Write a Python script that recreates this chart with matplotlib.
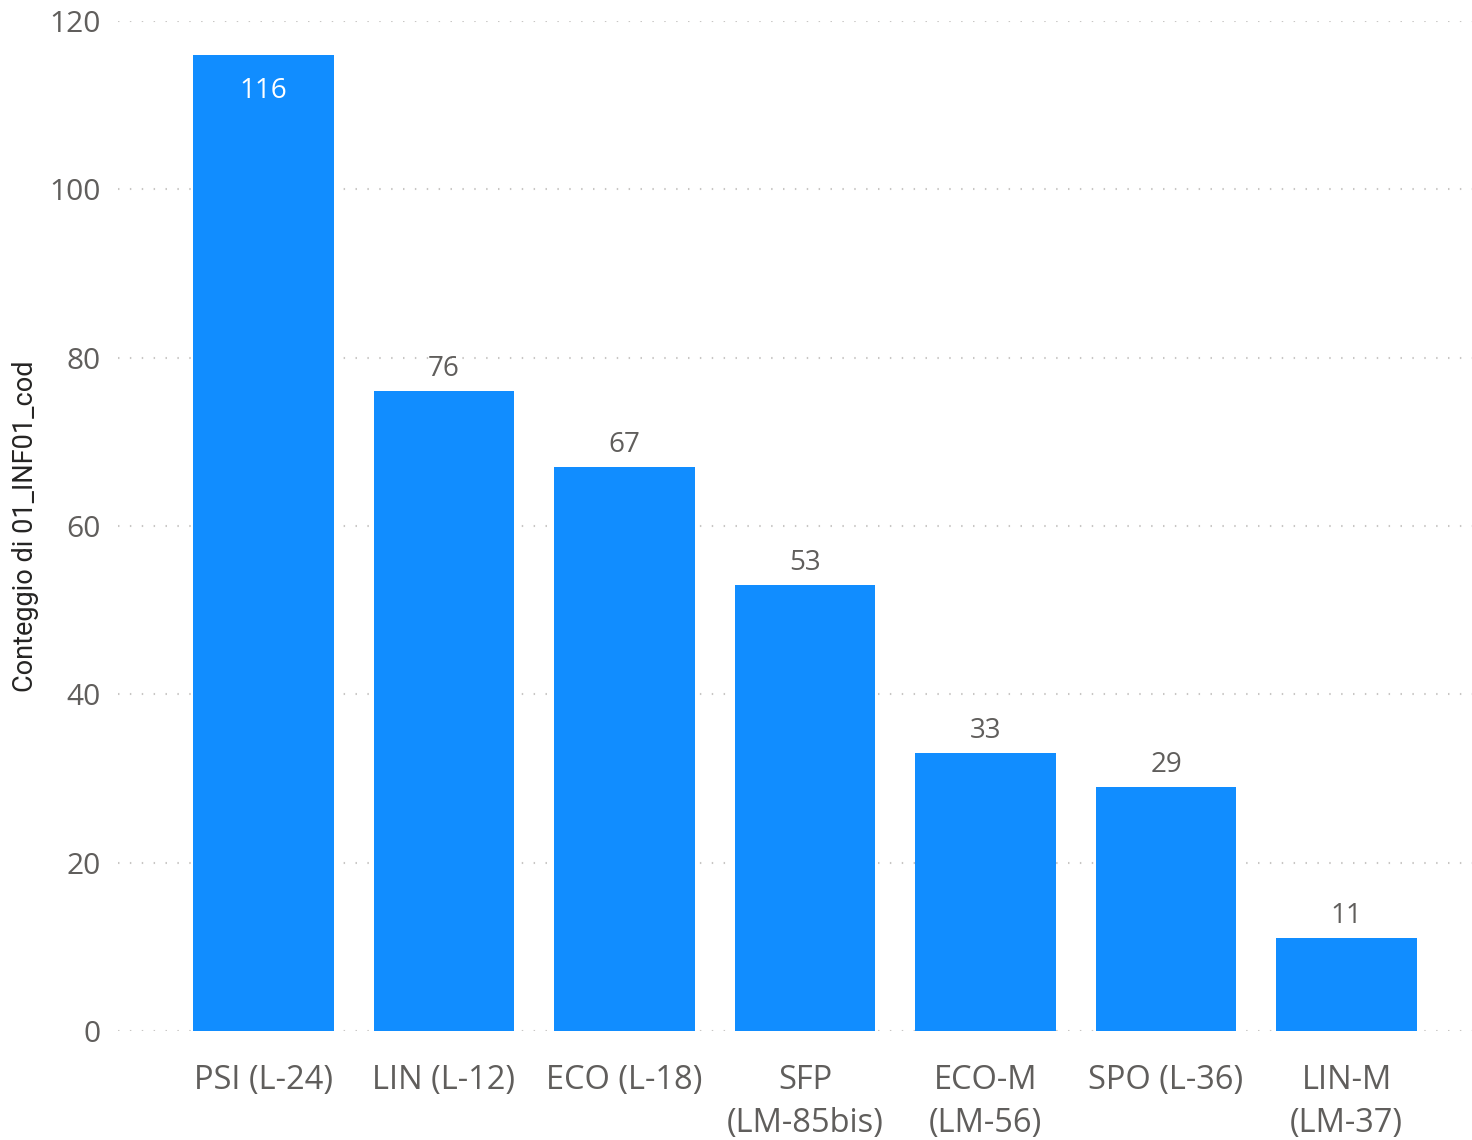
import matplotlib
matplotlib.use("Agg")
import matplotlib.pyplot as plt

categories = ["PSI (L-24)", "LIN (L-12)", "ECO (L-18)", "SFP\n(LM-85bis)",
              "ECO-M\n(LM-56)", "SPO (L-36)", "LIN-M\n(LM-37)"]
values = [116, 76, 67, 53, 33, 29, 11]
yticks = [0, 20, 40, 60, 80, 100, 120]
ylabel = "Conteggio di 01_INF01_cod"

BAR = "#118DFF"
GRAY = "#605E5C"
FONT = ["Open Sans", "DejaVu Sans"]

plt.rcParams["font.family"] = FONT

fig = plt.figure(figsize=(14.72, 11.40), dpi=100)
ax = fig.add_axes([118/1472, 109/1140, 1 - 118/1472, (1031-21)/1140])

x = list(range(len(categories)))
ax.bar(x, values, width=0.78, color=BAR, zorder=3)

ax.set_xlim(-0.806, 6.695)
ax.set_ylim(0, 120)
ax.set_yticks(yticks)
ax.set_xticks(x)
ax.set_xticklabels(categories, fontsize=23.5, color=GRAY, linespacing=1.4)
ax.tick_params(axis="x", length=0, pad=24)
ax.tick_params(axis="y", length=0, pad=12.5, labelsize=21.5, labelcolor=GRAY)

ax.grid(axis="y", color="#C8C6C4", linestyle=(0, (0.7, 5)), linewidth=1.5, zorder=1)
ax.grid(axis="x", visible=False)
for s in ax.spines.values():
    s.set_visible(False)

for i, v in enumerate(values):
    if i == 0:
        ax.text(i, v - 2.7, str(v), ha="center", va="top", fontsize=20, color="white", zorder=4)
    else:
        ax.text(i, v + 1.0, str(v), ha="center", va="bottom", fontsize=20, color=GRAY, zorder=4)

ax.set_ylabel(ylabel, fontsize=19.5, color="#252423", family=["Roboto", "DejaVu Sans"])
ax.yaxis.set_label_coords(-0.058, 0.5)

fig.savefig("out.png", dpi=100, facecolor="white")
